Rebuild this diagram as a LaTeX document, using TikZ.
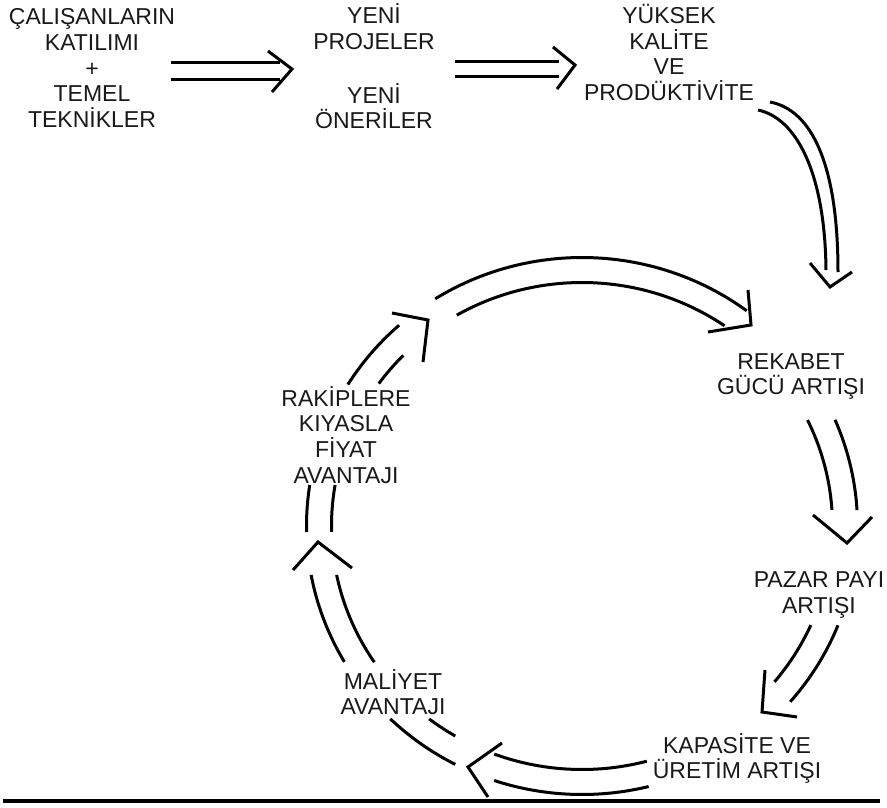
\documentclass[tikz,border=0pt]{standalone}
\usepackage{fontspec}
\setmainfont{Liberation Sans}
% struts that give every label box the same top and bottom
\newcommand\lbltop{\rule{0pt}{22pt}}
\newcommand\lblbot{\rule[-6pt]{0pt}{6pt}}
% one stroke of the ring: radial offset, start angle, end angle
\newcommand\ringarc[3]{%
  \draw[flow] plot[domain=#2:#3, samples=40, smooth]
    ({582+(263+#1)*cos(\x)},{526+(256+#1)*sin(\x)});}
\begin{document}
\begin{tikzpicture}[x=1pt,y=-1pt,
  lbl/.style={align=center, inner sep=0pt, text=black!90,
    font=\fontsize{23}{25.6}\selectfont},
  flow/.style={line width=3pt, line cap=butt},
  chev/.style={line width=3pt, line join=miter, miter limit=10}]
\useasboundingbox (0,0) rectangle (887,807);

% ---- labels ----
\node[lbl] (staff) at (92,68) {\lbltop ÇALIŞANLARIN\\KATILIMI\\+\\TEMEL\\TEKNİKLER\lblbot};
\node[lbl] (proj)  at (374,28.5) {\lbltop YENİ\\PROJELER\lblbot};
\node[lbl] (sugg)  at (374,108) {\lbltop YENİ\\ÖNERİLER\lblbot};
\node[lbl] (qual)  at (669,54) {\lbltop YÜKSEK\\KALİTE\\VE\\PRODÜKTİVİTE\lblbot};
\node[lbl] (comp)  at (791,374) {\lbltop REKABET\\GÜCÜ ARTIŞI\lblbot};
\node[lbl] (share) at (819,592.5) {\lbltop PAZAR PAYI\\ARTIŞI\lblbot};
\node[lbl] (capa)  at (737,758) {\lbltop KAPASİTE VE\\ÜRETİM ARTIŞI\lblbot};
\node[lbl] (cost)  at (393,694) {\lbltop MALİYET\\AVANTAJI\lblbot};
\node[lbl] (price) at (346,436.7) {\lbltop RAKİPLERE\\KIYASLA\\FİYAT\\AVANTAJI\lblbot};

% ---- top row: straight double arrows ----
\coordinate (a1s) at (171,71);  \coordinate (a1e) at (280,71);
\draw[flow] ([yshift=-8]a1s) -- ([yshift=-8]a1e);
\draw[flow] ([yshift=8.5]a1s) -- ([yshift=8.5]a1e);
\draw[chev] (268,51) -- (292,69) -- (272,92);

\coordinate (a2s) at (455,69);  \coordinate (a2e) at (559,69);
\draw[flow] ([yshift=-7.3]a2s) -- ([yshift=-7.3]a2e);
\draw[flow] ([yshift=7.5]a2s) -- ([yshift=7.5]a2e);
\draw[chev] (553,47) -- (575,65) -- (557,89);

% ---- curved double arrow down to the ring ----
\draw[flow] (770,102) .. controls (812,110) and (838,165) .. (838,272);
\draw[flow] (758,110) .. controls (796,118) and (825,172) .. (826,270);
\draw[chev] (810,263) -- (830,287) -- (852,272);

% ---- the ring ----
% top arc
\ringarc{12.5}{237.8}{306.7}
\ringarc{-12.5}{240}{304.7}
\draw[chev] (748,290) -- (751,325) -- (708,332);
% right side
\ringarc{12.5}{-23.3}{-3.4}
\ringarc{-12.5}{-25.8}{-3.8}
\draw[chev] (813,515) -- (847,543) -- (872,517);
% lower right
\ringarc{12.5}{21.7}{40.9}
\ringarc{-12.5}{24}{39.8}
\draw[chev] (765,670) -- (762,712) -- (797,717);
% bottom
\ringarc{12.5}{76}{108.6}
\ringarc{-12.5}{75}{110.5}
\draw[chev] (502,743) -- (468,767) -- (488,797);
% lower left, broken by its label
\ringarc{12.5}{117.4}{134.1}
\ringarc{12.5}{149.6}{169.5}
\ringarc{-12.5}{120.4}{127.6}
\ringarc{-12.5}{146}{168.4}
\draw[chev] (293,570) -- (318,542) -- (352,568);
% left side, broken by its label
\ringarc{12.5}{178.7}{188.8}
\ringarc{12.5}{211.8}{228.4}
\ringarc{-12.5}{178.6}{189.7}
\ringarc{-12.5}{215.8}{224.5}
\draw[chev] (392,313) -- (428,320) -- (423,362);

% ---- rule at the foot ----
\draw[line width=3.4pt] (3,801) -- (880,801);
\end{tikzpicture}
\end{document}
